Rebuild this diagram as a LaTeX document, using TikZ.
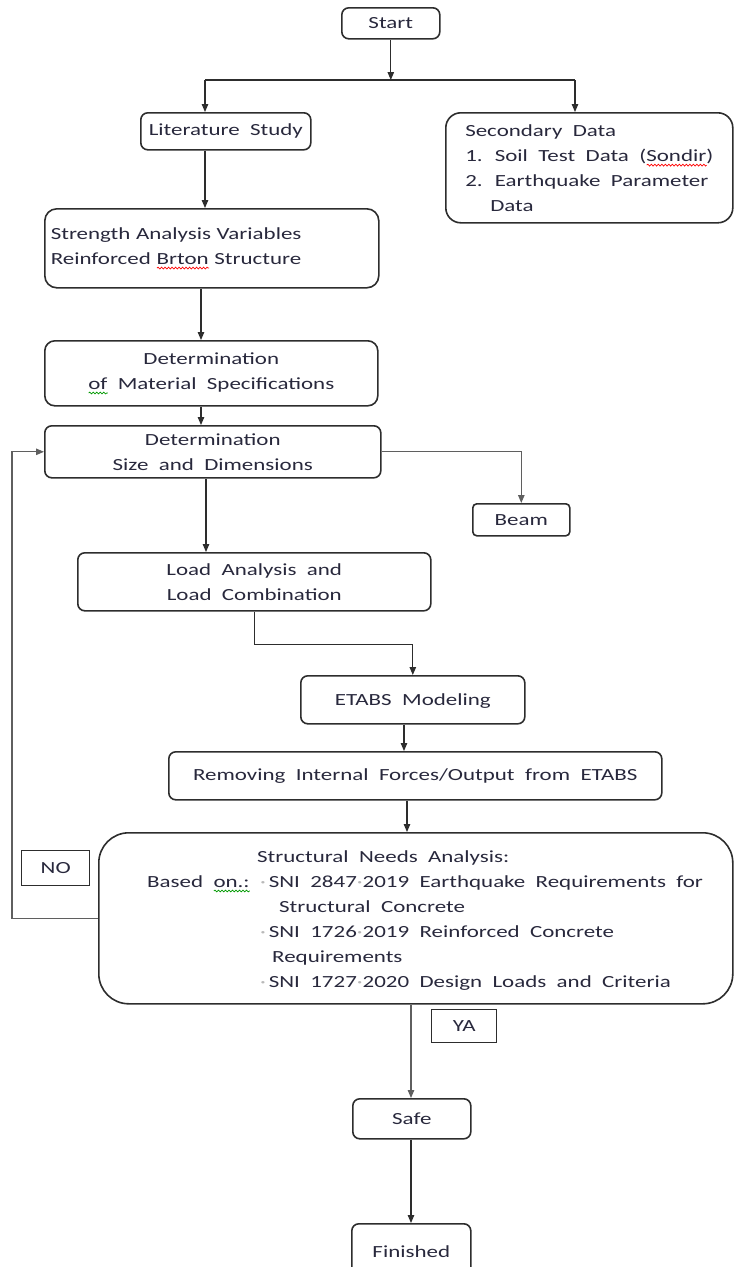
\documentclass[tikz,border=0pt]{standalone}
\usepackage{fontspec}
\setmainfont{Carlito}[FakeStretch=1.35, WordSpace=2]
\usetikzlibrary{arrows.meta,decorations.pathmorphing}
\definecolor{txt}{RGB}{40,40,60}
\definecolor{ln}{RGB}{45,45,45}
\definecolor{lnl}{RGB}{95,95,95}
\newdimen\wavew
\newcommand\wavy[2]{\setbox0\hbox{#2}\wavew=\wd0\rlap{\tikz[baseline=0pt,x=1pt,y=1pt,sharp corners]\draw[#1,sharp corners,line width=0.7pt,decorate,decoration={snake,amplitude=0.9pt,segment length=3.5pt}] (0pt,-4pt) -- (\wavew,-4pt);}\box0\relax}
\newcommand\redwave[1]{\wavy{red}{#1}}
\newcommand\greenwave[1]{\wavy{green!60!black}{#1}}
\newcommand\mdot{{\color{gray!55}·}}
\tikzset{
  pbox/.style={draw=ln, line width=1.6pt, rounded corners=7pt, text=txt,
    font=\fontsize{17}{25}\selectfont, inner sep=4pt, anchor=north west, align=center},
  tagbox/.style={draw=ln, line width=1.4pt, text=txt,
    font=\fontsize{17}{25}\selectfont, inner sep=2pt, anchor=north west, align=center},
  txtn/.style={text=txt, font=\fontsize{17}{25}\selectfont, inner sep=0pt, align=left},
  conn/.style={draw=ln, line width=1.1pt},
  arr/.style={conn, -{Triangle[length=8pt,width=6.5pt]}},
}
\begin{document}
\begin{tikzpicture}[x=1pt,y=-1pt]
\useasboundingbox (0,0) rectangle (734,1267);
\clip (0,0) rectangle (734,1267);
% boxes
\node[pbox, minimum width=98pt, minimum height=31pt, text depth=0pt] (start) at (341,7) {Start};
\node[pbox, minimum width=170pt, minimum height=37pt] (lit) at (140,112) {Literature Study};
\node[pbox, rounded corners=15pt, minimum width=287pt, minimum height=110pt, align=left] (sec) at (445,112)
  {Secondary Data\\1. Soil Test Data (\redwave{Sondir})\\2. Earthquake Parameter\\\hspace*{25pt}Data};
\node[pbox, rounded corners=12pt, minimum width=334pt, minimum height=79pt, text width=322pt, inner xsep=6pt, align=left] (str) at (44,208)
  {Strength Analysis Variables\\Reinforced \redwave{Brton} Structure};
\node[pbox, rounded corners=10pt, minimum width=333pt, minimum height=65pt] (mat) at (44,340)
  {Determination\\\greenwave{of} Material Specifications};
\node[pbox, minimum width=336pt, minimum height=52pt] (size) at (44,425)
  {Determination\\Size and Dimensions};
\node[pbox, rounded corners=4pt, minimum width=97pt, minimum height=32pt] (beam) at (472,503) {Beam};
\node[pbox, minimum width=353pt, minimum height=58pt] (load) at (77,552)
  {Load Analysis and\\Load Combination};
\node[pbox, minimum width=224pt, minimum height=48pt, text depth=0pt] (etabs) at (300,675) {ETABS Modeling};
\node[pbox, minimum width=493pt, minimum height=48pt] (rem) at (168,751)
  {Removing Internal Forces/Output from ETABS};
\node[pbox, rounded corners=30pt, minimum width=634pt, minimum height=171pt] (big) at (98,832) {};
\node[txtn, anchor=north west] (bigtxt) at (147,850) {%
\hspace*{110pt}Structural Needs Analysis:\\
\makebox[113pt][l]{Based \greenwave{on.:}}\mdot\,SNI 2847\mdot2019 Earthquake Requirements for\\
\hspace*{132pt}Structural Concrete\\
\hspace*{113pt}\mdot\,SNI 1726\mdot2019 Reinforced Concrete\\
\hspace*{125pt}Requirements\\
\hspace*{113pt}\mdot\,SNI 1727\mdot2020 Design Loads and Criteria};
\node[tagbox, minimum width=68pt, minimum height=35pt] (no) at (21,850) {NO};
\node[tagbox, minimum width=65pt, minimum height=33pt] (ya) at (431,1009) {YA};
\node[pbox, minimum width=118pt, minimum height=40pt] (safe) at (352,1098) {Safe};
\node[pbox, minimum width=119pt, minimum height=56pt] (fin) at (351,1223) {Finished};
% helper coordinates
\coordinate (spL) at (205,80);
\coordinate (spR) at (575,80);
\coordinate (xa) at (205,0);
\coordinate (xb) at (201,0);
\coordinate (xc) at (206,0);
\coordinate (xd) at (404,0);
\coordinate (xe) at (407,0);
\coordinate (xf) at (411,0);
\coordinate (lp) at (12,0);
% connectors
\draw[arr] (start.south) -- (start.south |- spL);
\draw[conn] (spL) -- (spR);
\draw[arr] (spL) -- (spL |- lit.north);
\draw[arr] (spR) -- (spR |- sec.north);
\draw[arr] (lit.south -| xa) -- (str.north -| xa);
\draw[arr] (str.south -| xb) -- (mat.north -| xb);
\draw[arr] (mat.south -| xb) -- (size.north -| xb);
\draw[arr, draw=lnl] (size.east) -| (beam.north);
\draw[arr] (size.south -| xc) -- (load.north -| xc);
\draw[arr] (load.south) -- ++(0,33) -| (etabs.north);
\draw[arr] (etabs.south -| xd) -- (rem.north -| xd);
\draw[arr] (rem.south -| xe) -- (big.north -| xe);
\draw[arr, draw=lnl] (big.south -| xf) -- (safe.north -| xf);
\draw[arr] (safe.south -| xf) -- (fin.north -| xf);
\draw[arr, draw=lnl] (big.west) -| (lp |- size.west) -- (size.west);
\end{tikzpicture}
\end{document}
